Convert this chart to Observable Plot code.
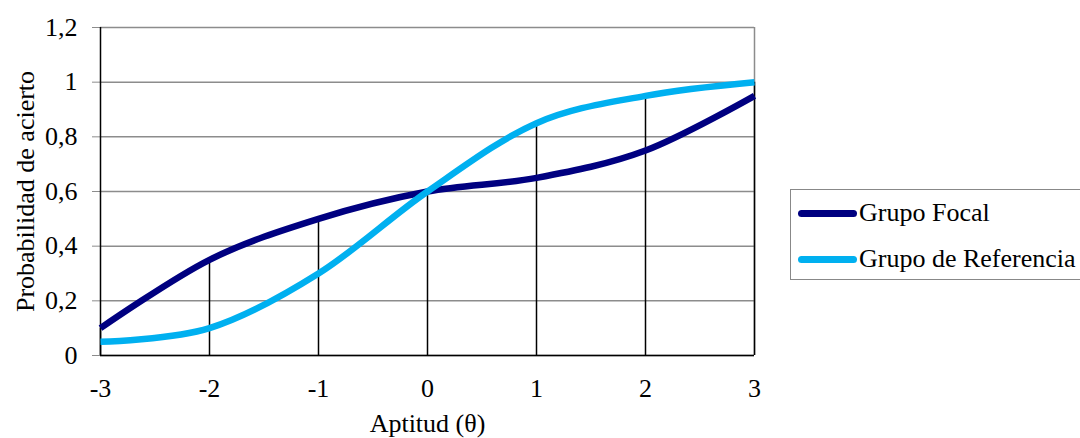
<!DOCTYPE html>
<html>
<head>
<meta charset="utf-8">
<script src="https://cdn.jsdelivr.net/npm/d3@7"></script>
<script src="https://cdn.jsdelivr.net/npm/@observablehq/plot@0.6"></script>
<style>
  html, body { margin: 0; padding: 0; background: #fff; overflow: hidden; }
  #wrap { position: relative; width: 1080px; height: 438px; font-family: "Liberation Serif", "Times New Roman", serif; }
  #legend { position: absolute; left: 790px; top: 189px; width: 310px; height: 91px; border: 1px solid #888; box-sizing: border-box; background: #fff; }
  .row { position: absolute; left: 7px; height: 30px; line-height: 30px; display: flex; align-items: center; font-size: 26px; color: #000; white-space: nowrap; font-family: "Liberation Serif", serif; }
  .sw { width: 59px; height: 7px; border-radius: 3.5px; margin-right: 2px; }
</style>
</head>
<body>
<div id="wrap"></div>
<script>
const theta = [-3, -2, -1, 0, 1, 2, 3];
const focal = [0.10, 0.35, 0.50, 0.60, 0.65, 0.75, 0.95];
const referencia = [0.05, 0.10, 0.30, 0.60, 0.85, 0.95, 1.00];
const yTicks = [0, 0.2, 0.4, 0.6, 0.8, 1, 1.2];
const seriesNames = ["Grupo Focal", "Grupo de Referencia"];
const seriesColors = ["#000080", "#00B0F0"];
const xTitle = "Aptitud (θ)";
const yTitle = "Probabilidad de acierto";

const focalData = theta.map((t, i) => ({theta: t, p: focal[i]}));
const refData = theta.map((t, i) => ({theta: t, p: referencia[i]}));
const drops = theta.map((t, i) => ({theta: t, top: Math.max(focal[i], referencia[i])}));
const fmt = d => String(d).replace(".", ",");
const FONT = "'Liberation Serif', 'Times New Roman', serif";

const chart = Plot.plot({
  width: 1080,
  height: 438,
  marginLeft: 100,
  marginRight: 326,
  marginTop: 27,
  marginBottom: 83,
  style: {fontFamily: FONT, fontSize: "26px", background: "#fff", color: "#000"},
  x: {domain: [-3, 3]},
  y: {domain: [0, 1.2]},
  marks: [
    Plot.gridY(yTicks, {stroke: "#8c8c8c", strokeOpacity: 1, strokeWidth: 1.5}),
    Plot.ruleX([3], {stroke: "#8c8c8c", strokeWidth: 1.5}),
    Plot.axisY(yTicks, {tickSize: 8, tickPadding: 15, stroke: "#8c8c8c", fill: "#000", tickFormat: fmt, label: null, fontSize: 26, fontFamily: FONT}),
    Plot.axisX(theta, {tickSize: 0, tickPadding: 23, fill: "#000", tickFormat: d => String(d), label: null, fontSize: 26, fontFamily: FONT}),
    Plot.ruleX(drops, {x: "theta", y1: 0, y2: "top", stroke: "#000", strokeWidth: 1.5}),
    Plot.ruleX([-3], {stroke: "#000", strokeWidth: 1.5}),
    Plot.ruleY([0], {stroke: "#000", strokeWidth: 1.5}),
    Plot.line(focalData, {x: "theta", y: "p", stroke: seriesColors[0], strokeWidth: 6.5, curve: "cardinal", strokeLinecap: "butt"}),
    Plot.line(refData, {x: "theta", y: "p", stroke: seriesColors[1], strokeWidth: 6.5, curve: "cardinal", strokeLinecap: "butt"}),
    Plot.text([xTitle], {frameAnchor: "bottom", textAnchor: "middle", lineAnchor: "bottom", dy: 76, fontSize: 26, fontFamily: FONT, fill: "#000"}),
    Plot.text([yTitle], {frameAnchor: "left", textAnchor: "middle", lineAnchor: "bottom", dx: -67, rotate: -90, fontSize: 26, fontFamily: FONT, fill: "#000"})
  ]
});

const wrap = document.getElementById("wrap");
wrap.appendChild(chart);

const legend = document.createElement("div");
legend.id = "legend";
seriesNames.forEach((name, i) => {
  const row = document.createElement("div");
  row.className = "row";
  row.style.top = (i === 0 ? 8 : 54) + "px";
  const sw = document.createElement("div");
  sw.className = "sw";
  sw.style.background = seriesColors[i];
  const label = document.createElement("span");
  label.textContent = name;
  row.appendChild(sw);
  row.appendChild(label);
  legend.appendChild(row);
});
wrap.appendChild(legend);
</script>
</body>
</html>
